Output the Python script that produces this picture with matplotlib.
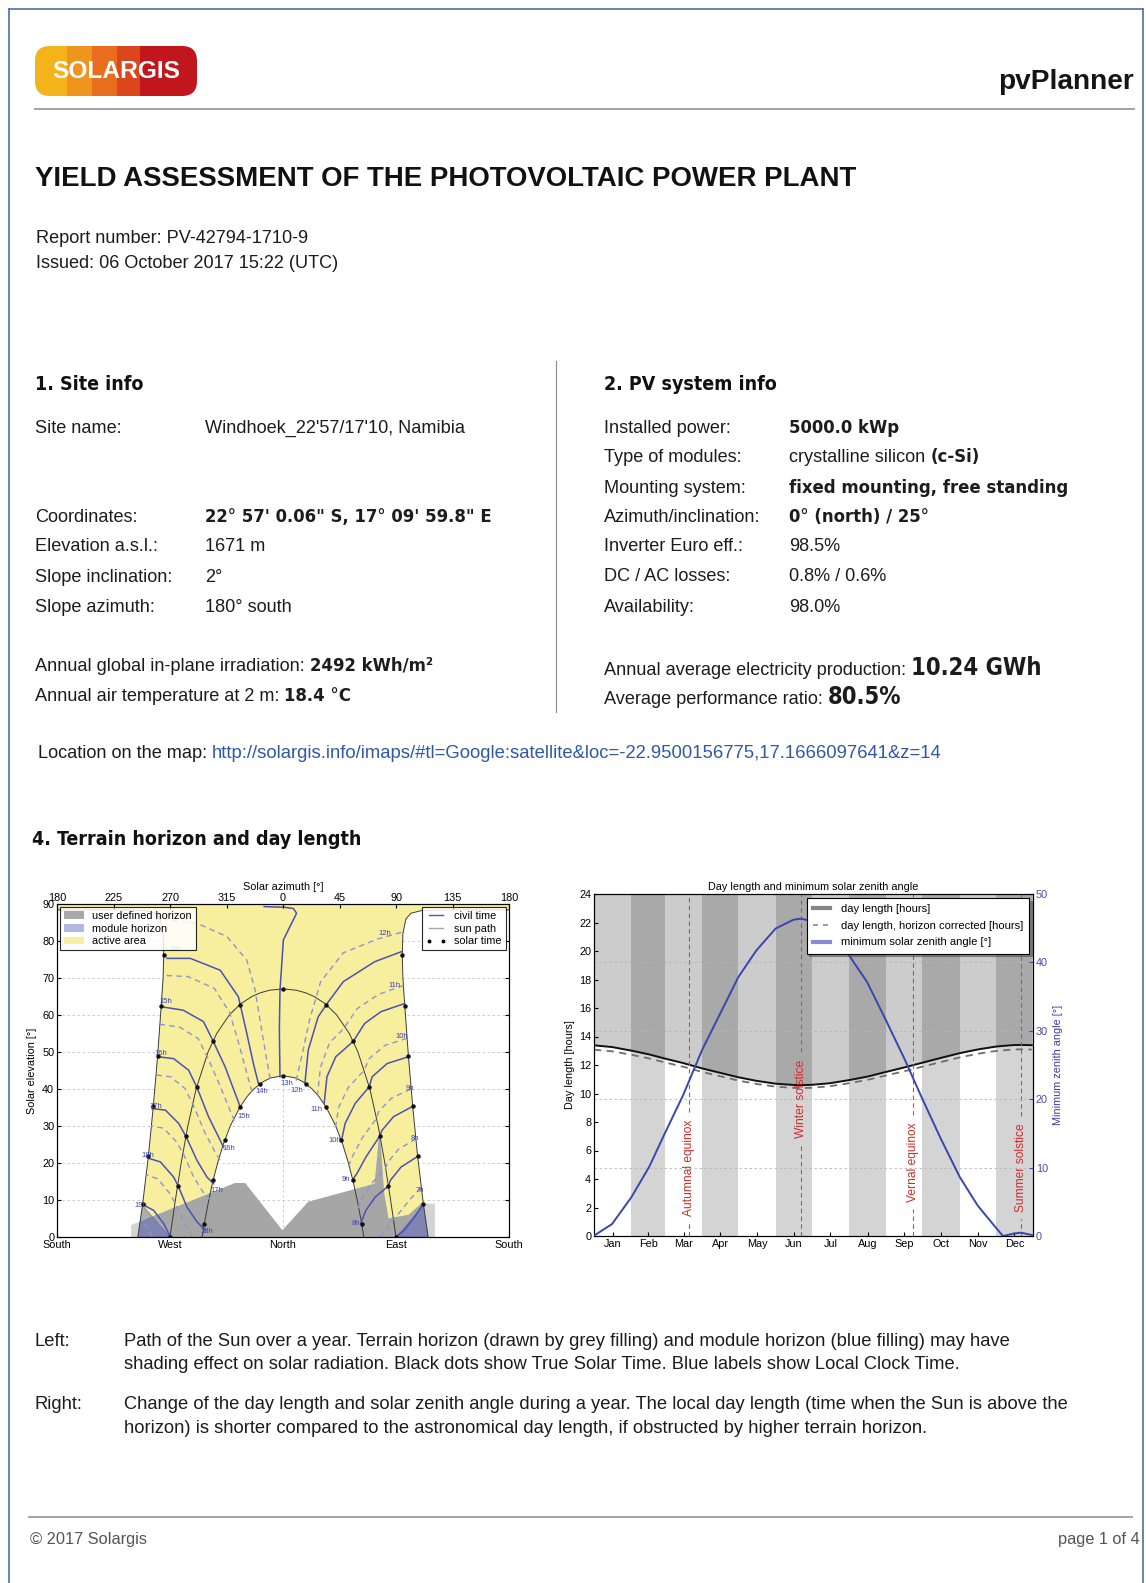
import matplotlib
matplotlib.use('Agg')
import matplotlib.pyplot as plt
from matplotlib import font_manager
from matplotlib.lines import Line2D
from matplotlib.patches import Polygon, Patch, FancyBboxPatch, Rectangle

W, H = 1146, 1583

# fonts: condensed body text, Verdana-like bold for headings and values
_fonts = font_manager.fontManager.ttflist
_names = {f.name for f in _fonts}
if 'Liberation Sans Narrow' in _names:
    NARROW, NS = 'Liberation Sans Narrow', 1.0
else:
    NARROW, NS = 'Liberation Sans', 0.84
HEAD = 'DejaVu Sans'
if any(f.name == HEAD and f.stretch == 'condensed' for f in _fonts):
    HSTRETCH, HS = 'condensed', 1.1
else:
    HSTRETCH, HS = 'normal', 1.0
TXT = '#1c1c1c'

plt.rcParams['font.family'] = [NARROW, 'DejaVu Sans']
plt.rcParams['xtick.direction'] = 'in'
plt.rcParams['ytick.direction'] = 'in'
plt.rcParams['axes.linewidth'] = 0.8

# ---------------- report text ----------------
site_labels = ['Site name:', 'Coordinates:', 'Elevation a.s.l.:', 'Slope inclination:', 'Slope azimuth:']
site_values = [[("Windhoek_22'57/17'10, Namibia", 'r')],
               [('22° 57\' 0.06" S, 17° 09\' 59.8" E', 'b')],
               [('1671 m', 'r')], [('2°', 'r')], [('180° south', 'r')]]
pv_labels = ['Installed power:', 'Type of modules:', 'Mounting system:', 'Azimuth/inclination:',
             'Inverter Euro eff.:', 'DC / AC losses:', 'Availability:']
pv_values = [[('5000.0 kWp', 'b')],
             [('crystalline silicon', 'r'), ('(c-Si)', 'b')],
             [('fixed mounting, free standing', 'b')],
             [('0° (north) / 25°', 'b')],
             [('98.5%', 'r')], [('0.8% / 0.6%', 'r')], [('98.0%', 'r')]]
irradiation = '2492 kWh/m²'
air_temp = '18.4 °C'
production = '10.24 GWh'
perf_ratio = '80.5%'
map_url = 'http://solargis.info/imaps/#tl=Google:satellite&loc=-22.9500156775,17.1666097641&z=14'
caption_left = ['Path of the Sun over a year. Terrain horizon (drawn by grey filling) and module horizon (blue filling) may have',
                'shading effect on solar radiation. Black dots show True Solar Time. Blue labels show Local Clock Time.']
caption_right = ['Change of the day length and solar zenith angle during a year. The local day length (time when the Sun is above the',
                 'horizon) is shorter compared to the astronomical day length, if obstructed by higher terrain horizon.']

# ---------------- sun path chart data (azimuth 0 = north, east positive) ----------------
dec_az = [115.6, 111.8, 107.2, 103.3, 99.9, 97.0, 95.5, 95.0, 95.5, 97.9, 102.0, 110.0, 130.0, 180.0]
dec_el = [0.0, 8.9, 21.9, 35.3, 48.8, 62.5, 70.0, 76.2, 82.0, 86.0, 87.5, 88.2, 88.4, 88.4]
jun_az = [64.4, 61.9, 59.1, 55.9, 52.1, 47.6, 42.0, 34.5, 28.5, 23.2, 15.7, 9.8, 0.0]
jun_el = [0.0, 5.0, 10.0, 15.0, 20.0, 25.0, 30.0, 35.0, 38.0, 40.0, 42.0, 43.0, 43.6]
eq_az = [90.0, 85.7, 81.1, 75.8, 69.2, 59.7, 52.8, 42.8, 33.8, 24.8, 18.0, 10.6, 0.0]
eq_el = [0.0, 10.0, 20.0, 30.0, 40.0, 50.0, 55.0, 60.0, 63.0, 65.0, 66.0, 66.7, 67.05]

# true solar time marks (morning side, mirrored for afternoon)
dot_az = [90.0, 84.0, 77.3, 68.7, 56.0, 34.5, 62.6, 55.5, 46.3, 34.2, 18.4,
          111.8, 107.2, 103.3, 99.9, 97.0, 95.0]
dot_el = [0.0, 13.8, 27.4, 40.6, 52.9, 62.8, 3.6, 15.5, 26.2, 35.2, 41.4,
          8.9, 21.9, 35.3, 48.8, 62.5, 76.2]
noon_az = [0.0, 0.0]
noon_el = [67.05, 43.6]

terrain_az = [-121.0, -121.0, -38.1, -30.2, -0.5, 20.1, 73.0, 77.0, 80.5, 84.0, 100.0, 110.0, 121.0, 121.0]
terrain_el = [0.0, 3.2, 14.6, 14.6, 1.8, 9.5, 14.4, 29.3, 12.0, 5.0, 6.0, 9.0, 9.0, 0.0]

module_az = [90.0, 95.0, 100.0, 105.0, 110.0, 115.0, 120.0, 125.0]
module_el = [0.0, 1.8, 3.8, 5.8, 7.8, 9.8, 11.6, 13.4]

# local clock time lines, June solstice end first
civil_solid = {
    '13h': ([-2.4, -2.9, -2.4, 0.3, 8.2, 10.8, 8.2, 1.6, -15.0],
            [43.3, 55.9, 66.7, 80.3, 85.7, 87.5, 88.8, 89.1, 89.3]),
    '14h': ([-19.6, -23.6, -28.8, -35.5, -50.0, -73.8, -92.4], [41.5, 46.9, 55.0, 64.9, 72.1, 75.3, 75.3]),
    '15h': ([-34.1, -38.1, -46.1, -55.3, -63.3, -79.5, -96.3], [35.2, 38.8, 46.0, 52.7, 58.2, 61.3, 62.2]),
    '16h': ([-47.4, -51.4, -59.3, -68.5, -75.2, -87.1, -99.0], [24.3, 27.1, 32.5, 40.4, 45.1, 48.2, 48.7]),
    '17h': ([-55.3, -60.6, -68.5, -77.0, -83.1, -93.7, -104.3], [14.4, 16.2, 20.7, 27.0, 30.7, 34.3, 34.7]),
    '18h': ([-61.9, -68.5, -76.5, -83.1, -87.1, -97.7, -106.4], [1.8, 4.1, 8.1, 13.5, 16.2, 20.3, 21.2]),
    '19h': ([-89.7, -95.0, -103.0, -110.9], [0.0, 3.6, 7.2, 8.6]),
    '12h': ([17.5, 20.1, 28.0, 34.5, 48.0, 73.0, 94.2], [41.7, 50.5, 59.5, 62.8, 69.0, 74.4, 77.1]),
    '11h': ([32.8, 35.0, 42.0, 56.0, 65.0, 78.0, 96.9], [36.1, 43.3, 48.7, 52.9, 57.7, 60.9, 63.1]),
    '10h': ([46.6, 49.5, 57.5, 68.7, 71.0, 83.0, 99.8], [26.1, 30.7, 36.1, 40.6, 43.3, 46.9, 48.7]),
    '9h': ([55.0, 58.8, 66.0, 77.3, 79.0, 88.0, 103.2], [15.3, 17.1, 21.6, 27.4, 28.9, 32.5, 35.3]),
    '8h': ([61.9, 66.0, 73.5, 84.0, 85.5, 94.0, 107.8], [3.6, 7.2, 10.8, 13.8, 15.3, 18.9, 21.9]),
    '7h': ([90.0, 97.0, 105.0, 111.5], [0.0, 2.0, 5.5, 8.9]),
}
civil_dashed = {
    '13h': ([-10.3, -12.9, -17.0, -22.2, -28.8, -44.7, -68.5, -97.9],
            [42.8, 47.8, 55.9, 66.7, 74.8, 81.2, 84.8, 86.0]),
    '14h': ([-24.7, -28.7, -34.9, -42.4, -54.7, -75.8, -95.6], [39.3, 44.1, 51.9, 60.6, 67.2, 70.4, 70.7]),
    '15h': ([-38.8, -42.8, -50.7, -59.9, -67.5, -82.2, -97.9], [31.4, 34.7, 41.3, 48.4, 53.6, 56.7, 57.5]),
    '16h': ([-50.2, -54.6, -62.5, -71.5, -78.0, -89.4, -101.3], [20.8, 23.3, 28.4, 35.7, 40.1, 43.3, 43.8]),
    '17h': ([-57.6, -63.4, -71.3, -79.1, -84.5, -95.1, -105.2], [10.0, 12.0, 16.3, 22.3, 25.6, 29.4, 30.0]),
    '18h': ([-72.5, -78.5, -85.5, -89.5, -99.6, -108.6], [0.0, 3.6, 8.8, 11.5, 15.7, 16.8]),
    '19h': ([-104.0, -108.0, -112.6], [0.0, 2.5, 4.3]),
    '12h': ([10.5, 16.0, 21.0, 30.0, 48.0, 75.0, 95.8], [42.3, 50.5, 58.5, 69.0, 76.8, 80.5, 82.5]),
    '11h': ([27.4, 29.8, 37.1, 48.5, 59.0, 76.3, 96.0], [38.1, 45.8, 52.5, 56.4, 61.7, 65.6, 68.0]),
    '10h': ([41.8, 44.4, 52.1, 64.3, 68.9, 81.3, 98.8], [29.6, 35.1, 40.5, 44.9, 48.3, 51.8, 53.7]),
    '9h': ([52.1, 55.5, 63.0, 74.3, 76.2, 86.3, 102.0], [19.1, 21.9, 26.7, 32.0, 33.9, 37.5, 40.0]),
    '8h': ([59.5, 63.5, 70.9, 81.7, 83.2, 91.9, 106.2], [7.7, 10.7, 14.6, 18.6, 20.1, 23.7, 26.6]),
    '7h': ([77.0, 82.0, 87.9, 93.0, 101.2, 110.2], [0.0, 2.0, 4.8, 6.7, 10.2, 13.4]),
}
civil_labels = [
    ('14h', -85.0, 77.7), ('15h', -93.7, 63.6), ('16h', -97.1, 49.6), ('17h', -101.6, 35.2),
    ('18h', -107.4, 22.1), ('19h', -113.0, 8.6),
    ('14h', -16.9, 39.2), ('15h', -31.5, 32.5), ('16h', -43.4, 23.9), ('17h', -52.6, 12.6), ('18h', -60.6, 1.4),
    ('13h', 2.9, 41.5), ('12h', 10.9, 39.7), ('11h', 26.7, 34.4), ('10h', 41.3, 26.0),
    ('9h', 49.8, 15.5), ('8h', 57.7, 3.6),
    ('12h', 81.5, 82.0), ('11h', 88.9, 68.1), ('10h', 94.8, 54.1), ('9h', 100.8, 40.1),
    ('8h', 104.8, 26.6), ('7h', 108.8, 12.6),
]
az_ticks = [-180, -135, -90, -45, 0, 45, 90, 135, 180]
az_tick_labels = ['180', '225', '270', '315', '0', '45', '90', '135', '180']
compass_ticks = [-180, -90, 0, 90, 180]
compass_labels = ['South', 'West', 'North', 'East', 'South']

# ---------------- day length chart data ----------------
days = [0, 15, 31, 46, 59, 74, 90, 105, 120, 135, 151, 166, 172, 181, 196, 212, 227,
        243, 258, 273, 288, 304, 319, 334, 340, 349, 355, 364]
day_length = [13.38, 13.26, 13.01, 12.74, 12.45, 12.14, 11.76, 11.45, 11.14, 10.89, 10.69, 10.60, 10.59,
              10.61, 10.72, 10.94, 11.18, 11.52, 11.83, 12.16, 12.49, 12.83, 13.09, 13.29, 13.34, 13.40,
              13.41, 13.39]
day_length_hc = [13.07, 12.96, 12.72, 12.46, 12.18, 11.88, 11.51, 11.21, 10.91, 10.67, 10.48, 10.39, 10.38,
                 10.40, 10.51, 10.72, 10.95, 11.27, 11.56, 11.88, 12.20, 12.53, 12.79, 12.98, 13.03, 13.09,
                 13.10, 13.08]
min_zenith = [0.05, 1.75, 5.65, 10.15, 15.05, 20.55, 27.25, 32.55, 37.85, 41.75, 44.95, 46.25, 46.39,
              46.05, 44.45, 41.05, 37.15, 31.45, 25.95, 20.05, 14.35, 8.65, 4.45, 1.25, 0.0, 0.35, 0.49, 0.15]
month_edges = [0, 31, 59, 90, 120, 151, 181, 212, 243, 273, 304, 334, 365]
month_names = ['Jan', 'Feb', 'Mar', 'Apr', 'May', 'Jun', 'Jul', 'Aug', 'Sep', 'Oct', 'Nov', 'Dec']
event_days = [79, 172, 265, 355]
event_names = ['Autumnal equinox', 'Winter solstice', 'Vernal equinox', 'Summer solstice']


fig = plt.figure(figsize=(W / 100, H / 100), dpi=100)
fig.patch.set_facecolor('white')
renderer = fig.canvas.get_renderer()


def fx(x):
    return x / W


def fy(y):
    return 1 - y / H


STYLES = {
    'r': dict(family=NARROW, fontsize=15.5 * NS, weight='normal', color=TXT),
    'cap': dict(family=NARROW, fontsize=15.8 * NS, weight='normal', color=TXT),
    'b': dict(family=HEAD, fontsize=12 * HS, weight='bold', stretch=HSTRETCH, color=TXT),
    'big': dict(family=HEAD, fontsize=15.5 * HS, weight='bold', stretch=HSTRETCH, color=TXT),
    'link': dict(family=NARROW, fontsize=15.9 * NS, weight='normal', color='#2f58a8'),
    'head': dict(family=HEAD, fontsize=12.8 * HS, weight='bold', stretch=HSTRETCH, color='#111111'),
}


def put(x, y, s, style='r', ha='left', **kw):
    props = dict(STYLES[style])
    props.update(kw)
    return fig.text(fx(x), fy(y), s, ha=ha, va='baseline', **props)


def runs(x, y, parts, gap=5):
    for s, style in parts:
        t = put(x, y, s, style)
        x += t.get_window_extent(renderer).width + gap


def hline(x0, x1, y, color, lw):
    fig.add_artist(Line2D([fx(x0), fx(x1)], [fy(y), fy(y)], color=color, lw=lw, transform=fig.transFigure))


def vline(x, y0, y1, color, lw):
    fig.add_artist(Line2D([fx(x), fx(x)], [fy(y0), fy(y1)], color=color, lw=lw, transform=fig.transFigure))


# page frame
vline(9, 9, H, '#4d6fa3', 1.2)
vline(1143, 9, H, '#4d6fa3', 1.2)
hline(9, 1143, 9, '#4d6fa3', 1.2)

# logo
lg = fig.add_axes([fx(35), fy(96), 162 / W, 50 / H])
lg.set_xlim(0, 162)
lg.set_ylim(0, 50)
lg.axis('off')
pill = FancyBboxPatch((0, 0), 162, 50, boxstyle='round,pad=0,rounding_size=15',
                      fc='none', ec='none', transform=lg.transData)
lg.add_patch(pill)
stripe_edges = [0, 32, 57, 82, 105, 162]
stripe_colors = ['#f4b31b', '#f09420', '#e96d1f', '#dc461c', '#c1161b']
for a, b, c in zip(stripe_edges[:-1], stripe_edges[1:], stripe_colors):
    r = Rectangle((a, 0), b - a, 50, fc=c, lw=0)
    lg.add_patch(r)
    r.set_clip_path(pill)
lg.text(81, 24, 'SOLARGIS', ha='center', va='center', color='white',
        fontsize=21 * NS, family=NARROW, weight='bold')

put(1134, 89, 'pvPlanner', ha='right', fontsize=24 * NS, weight='bold', color='#151515')
hline(35, 1134, 109, '#a3a3a3', 1.4)

put(35, 186, 'YIELD ASSESSMENT OF THE PHOTOVOLTAIC POWER PLANT', fontsize=23.7 * NS, weight='bold',
    color='#111111')
put(36, 243, 'Report number: PV-42794-1710-9')
put(36, 268, 'Issued: 06 October 2017 15:22 (UTC)')

# site info
put(35, 390, '1. Site info', 'head')
for lab, val, y in zip(site_labels, site_values, [433, 522, 551, 582, 612]):
    put(35, y, lab)
    runs(205, y, val)
runs(35, 671, [('Annual global in-plane irradiation:', 'r'), (irradiation, 'b')])
runs(35, 701, [('Annual air temperature at 2 m:', 'r'), (air_temp, 'b')])

vline(556, 361, 712, '#8a8a8a', 0.8)

# PV system info
put(604, 390, '2. PV system info', 'head')
for lab, val, y in zip(pv_labels, pv_values, [433, 462, 493, 522, 551, 581, 612]):
    put(604, y, lab)
    runs(789, y, val)
runs(604, 675, [('Annual average electricity production:', 'r'), (production, 'big')])
runs(604, 704, [('Average performance ratio:', 'r'), (perf_ratio, 'big')])

runs(38, 758, [('Location on the map:', 'r'), (map_url, 'link')])

put(32, 845, '4. Terrain horizon and day length', 'head')

# ---------------- sun path chart ----------------
CH = 9.3 * NS
axl = fig.add_axes([fx(57), fy(1237), 452 / W, 333 / H])
axl.set_xlim(-180, 180)
axl.set_ylim(0, 90)
axl.set_axisbelow(True)
axl.grid(True, ls=(0, (3, 3)), color='#c4c4c4', lw=0.6)

right_branch = list(zip(dec_az, dec_el))
left_branch = [(-a, e) for a, e in reversed(right_branch)]
june_path = [(-a, e) for a, e in zip(jun_az, jun_el)] + \
            [(a, e) for a, e in reversed(list(zip(jun_az, jun_el)))][1:]
equinox_path = [(-a, e) for a, e in zip(eq_az, eq_el)] + \
               [(a, e) for a, e in reversed(list(zip(eq_az, eq_el)))][1:]

envelope = Polygon(right_branch + [(180, 90), (-180, 90)] + left_branch,
                   closed=True, fc='none', ec='none', transform=axl.transData)
axl.add_patch(envelope)

active = Polygon(right_branch + [(180, 90), (-180, 90)] + left_branch + june_path,
                 closed=True, fc='#f7ef9e', ec='none', zorder=1)
axl.add_patch(active)

terrain_pts = list(zip(terrain_az, terrain_el))
axl.add_patch(Polygon(terrain_pts, closed=True, fc='#d3d3d3', ec='none', zorder=1.2))
terrain_in = Polygon(terrain_pts, closed=True, fc='#a6a6a6', ec='none', zorder=1.3)
axl.add_patch(terrain_in)
terrain_in.set_clip_path(envelope)

mod_right = list(zip(module_az, module_el)) + [(module_az[-1], 0)]
for pts in (mod_right, [(-a, e) for a, e in mod_right]):
    m = Polygon(pts, closed=True, fc='#4a58c0', alpha=0.42, ec='#3e4cb0', lw=0.8, zorder=1.5)
    axl.add_patch(m)
    m.set_clip_path(envelope)

for path in (right_branch, left_branch, june_path, equinox_path):
    xs, ys = zip(*path)
    axl.plot(xs, ys, color='#3a3a3a', lw=0.7, zorder=2)

for name, (xs, ys) in civil_dashed.items():
    axl.plot(xs, ys, color='#8e93d4', lw=1.0, ls=(0, (4, 3)), zorder=2.4)
for name, (xs, ys) in civil_solid.items():
    axl.plot(xs, ys, color='#4a52b4', lw=1.1, zorder=2.5)

axl.plot(dot_az + [-a for a in dot_az], dot_el + dot_el, ls='none', marker='o', ms=2.2,
         color='#111111', zorder=3)
axl.plot(noon_az, noon_el, ls='none', marker='o', ms=2.2, color='#111111', zorder=3)

for s, a, e in civil_labels:
    axl.text(a, e, s, fontsize=6.6 * NS, color='#3c43b0', ha='center', va='center', zorder=3.5)

axl.set_xticks(compass_ticks)
axl.set_xticklabels(compass_labels)
axl.set_yticks(range(0, 91, 10))
axl.tick_params(labelsize=CH, right=True, length=3, pad=2)
axl.set_ylabel('Solar elevation [°]', fontsize=CH, labelpad=4)

axt = axl.twiny()
axt.set_xlim(-180, 180)
axt.set_xticks(az_ticks)
axt.set_xticklabels(az_tick_labels)
axt.tick_params(labelsize=CH, length=3, pad=1)
axt.set_xlabel('Solar azimuth [°]', fontsize=CH, labelpad=2)

leg_kw = dict(fontsize=CH, frameon=True, fancybox=False, framealpha=0.85, edgecolor='black',
              borderaxespad=0.3, borderpad=0.35, labelspacing=0.25, handletextpad=0.8, handlelength=1.8)
leg1 = axl.legend(handles=[Patch(fc='#a9a9a9', ec='none', label='user defined horizon'),
                           Patch(fc='#b2b8e2', ec='none', label='module horizon'),
                           Patch(fc='#f7ef9e', ec='none', label='active area')],
                  loc='upper left', **leg_kw)
leg1.get_frame().set_linewidth(0.8)
leg1.set_zorder(6)
axl.add_artist(leg1)
leg2 = axl.legend(handles=[Line2D([], [], color='#4a52b4', lw=1, label='civil time'),
                           Line2D([], [], color='#a8a8a8', lw=1, label='sun path'),
                           Line2D([], [], ls='none', marker='o', ms=1.8, color='k', label='solar time')],
                  loc='upper right', numpoints=2, **leg_kw)
leg2.get_frame().set_linewidth(0.8)
leg2.set_zorder(6)

# ---------------- day length chart ----------------
axr = fig.add_axes([fx(594), fy(1236), 439 / W, 342 / H])
axr.set_xlim(0, 365)
axr.set_ylim(0, 24)
for i, (a, b) in enumerate(zip(month_edges[:-1], month_edges[1:])):
    if i % 2:
        axr.axvspan(a, b, color='#d4d4d4', lw=0, zorder=0)
axr.fill_between(days, day_length, 24, color='black', alpha=0.2, lw=0, zorder=1)
axr.plot(days, day_length_hc, color='#6e6e6e', lw=1.3, ls=(0, (4, 3)), zorder=3)
axr.plot(days, day_length, color='#111111', lw=1.4, zorder=3)

event_text_y = [4.8, 9.65, 5.2, 4.8]
for d, name, ty in zip(event_days, event_names, event_text_y):
    t = axr.text(d, ty, name, rotation=90, ha='center', va='center', color='#d42a2a',
                 fontsize=10.3 * NS, zorder=4)
    bb = t.get_window_extent(renderer).transformed(axr.transData.inverted())
    axr.plot([d, d], [0, bb.y0 - 0.5], color='#e04040', lw=0.8, ls=(0, (4, 3)), zorder=4)
    axr.plot([d, d], [bb.y1 + 0.5, 24], color='#e04040', lw=0.8, ls=(0, (4, 3)), zorder=4)

month_mid = [(a + b) / 2 for a, b in zip(month_edges[:-1], month_edges[1:])]
axr.set_xticks(month_mid)
axr.set_xticklabels(month_names)
axr.set_yticks(range(0, 25, 2))
axr.tick_params(labelsize=CH, length=3, pad=2)
axr.set_ylabel('Day length [hours]', fontsize=CH, labelpad=3)
axr.set_title('Day length and minimum solar zenith angle', fontsize=CH, pad=3)

ax2 = axr.twinx()
ax2.set_ylim(0, 50)
ax2.set_yticks(range(0, 51, 10))
ax2.yaxis.grid(True, ls=(0, (3, 3)), color='#b4b4b4', lw=0.6)
ax2.plot(days, min_zenith, color='#3846b0', lw=1.4, zorder=3)
ax2.tick_params(labelsize=CH, colors='#4a4aa8', length=3, pad=2)
ax2.set_ylabel('Minimum zenith angle [°]', fontsize=CH, color='#3a3aa8', labelpad=4)
leg3 = ax2.legend(handles=[Line2D([], [], color='#858585', lw=3, label='day length [hours]'),
                           Line2D([], [], color='#8c8c8c', lw=1.2, ls=(0, (3, 3)),
                                  label='day length, horizon corrected [hours]'),
                           Line2D([], [], color='#8a8ad0', lw=3, label='minimum solar zenith angle [°]')],
                  loc='upper right', fontsize=CH * 1.03, fancybox=False, shadow=True, framealpha=1,
                  edgecolor='black', borderaxespad=0.35, borderpad=0.55, labelspacing=0.6,
                  handlelength=1.5, handletextpad=1.0)
leg3.get_frame().set_linewidth(0.8)

# ---------------- captions and footer ----------------
put(35, 1346, 'Left:', 'cap')
for i, line in enumerate(caption_left):
    put(124, 1346 + 23 * i, line, 'cap')
put(35, 1409, 'Right:', 'cap')
for i, line in enumerate(caption_right):
    put(124, 1409 + 24 * i, line, 'cap')

hline(29, 1132, 1517, '#a3a3a3', 1.4)
put(30, 1544, '© 2017 Solargis', fontsize=14 * NS, color='#555555')
put(1140, 1544, 'page 1 of 4', ha='right', fontsize=14 * NS, color='#555555')

fig.savefig('out.png', dpi=100, facecolor='white')
